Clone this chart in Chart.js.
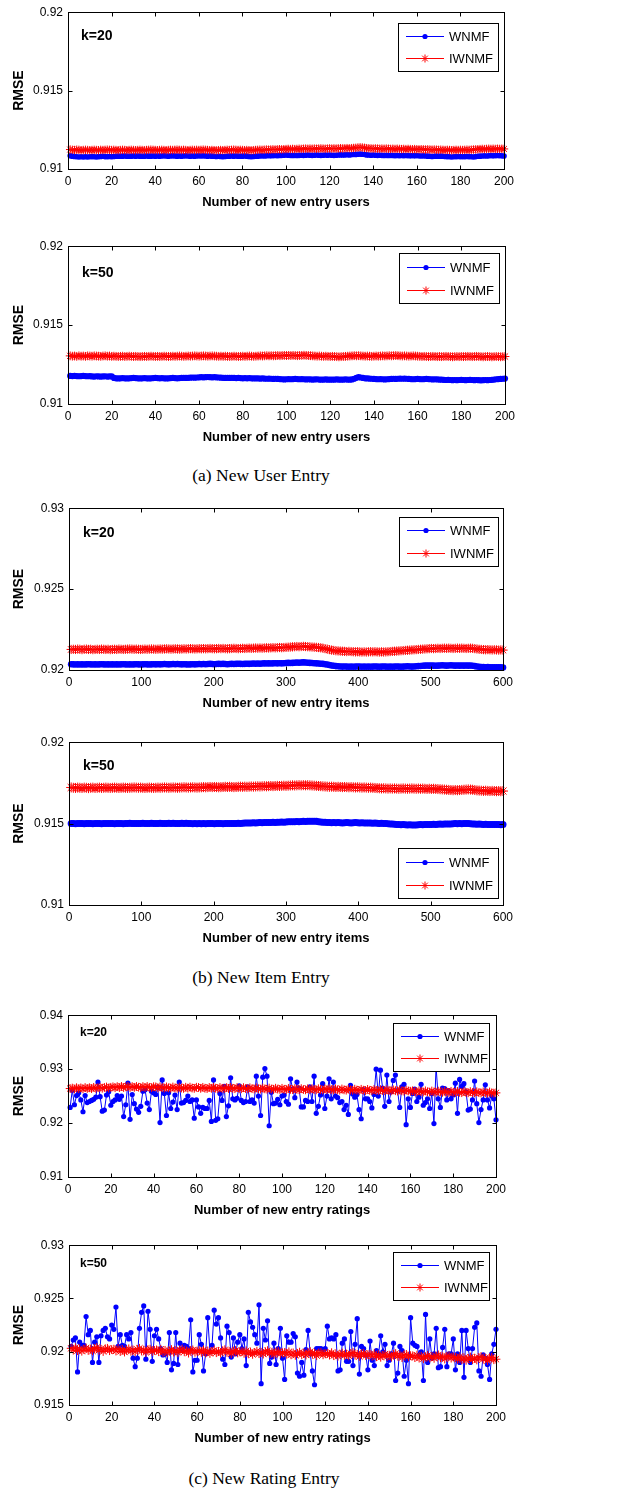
<!DOCTYPE html>
<html><head><meta charset="utf-8">
<script src="https://cdn.jsdelivr.net/npm/chart.js@4/dist/chart.umd.min.js"></script>
<style>
body{margin:0;background:#fff;width:630px;height:1488px;position:relative;overflow:hidden}
.box{position:absolute;left:0;width:630px}
.cap{position:absolute;width:300px;text-align:center;font-family:"Liberation Serif","Times New Roman",serif;font-size:17.5px;color:#000;line-height:20px}
</style></head><body>
<div class="cap" style="left:111px;top:465px">(a) New User Entry</div>
<div class="cap" style="left:111px;top:967px">(b) New Item Entry</div>
<div class="cap" style="left:114px;top:1468px">(c) New Rating Entry</div>
<script>
// ---------- categories (x positions) ----------
const usersX = Array.from({length:200},(_,i)=>i+1);
const itemsX = Array.from({length:200},(_,i)=>3*(i+1));
const ratingsX = Array.from({length:200},(_,i)=>i+1);
const xTicksUsers = [0,200,20];   // min, max, step
const xTicksItems = [0,600,100];

// ---------- (a) New User Entry, k=20 ----------
const wnmfUsersK20 = [
0.91084,0.91082,0.91080,0.91078,0.91077,0.91078,0.91077,0.91078,0.91077,0.91078,0.91079,0.91078,0.91077,0.91079,0.91080,0.91081,0.91079,0.91078,0.91080,0.91079,
0.91080,0.91081,0.91082,0.91081,0.91082,0.91083,0.91082,0.91081,0.91082,0.91083,0.91082,0.91083,0.91082,0.91081,0.91082,0.91083,0.91082,0.91082,0.91083,0.91082,
0.91083,0.91082,0.91083,0.91084,0.91083,0.91082,0.91083,0.91084,0.91083,0.91082,0.91083,0.91082,0.91083,0.91084,0.91083,0.91082,0.91083,0.91082,0.91083,0.91084,
0.91083,0.91084,0.91083,0.91082,0.91083,0.91082,0.91081,0.91080,0.91081,0.91080,0.91079,0.91080,0.91081,0.91082,0.91083,0.91082,0.91083,0.91082,0.91081,0.91082,
0.91083,0.91082,0.91080,0.91079,0.91080,0.91081,0.91082,0.91083,0.91084,0.91083,0.91084,0.91085,0.91084,0.91085,0.91086,0.91085,0.91086,0.91087,0.91088,0.91089,
0.91088,0.91087,0.91086,0.91087,0.91086,0.91087,0.91088,0.91087,0.91088,0.91089,0.91088,0.91087,0.91088,0.91089,0.91088,0.91087,0.91088,0.91089,0.91088,0.91089,
0.91088,0.91087,0.91088,0.91089,0.91090,0.91089,0.91090,0.91091,0.91090,0.91091,0.91092,0.91093,0.91094,0.91095,0.91094,0.91092,0.91090,0.91089,0.91088,0.91089,
0.91088,0.91087,0.91088,0.91087,0.91086,0.91087,0.91086,0.91087,0.91086,0.91085,0.91086,0.91085,0.91086,0.91085,0.91086,0.91085,0.91084,0.91085,0.91084,0.91085,
0.91084,0.91083,0.91084,0.91083,0.91082,0.91081,0.91080,0.91081,0.91082,0.91081,0.91082,0.91081,0.91080,0.91079,0.91078,0.91077,0.91078,0.91079,0.91080,0.91079,
0.91078,0.91079,0.91080,0.91079,0.91078,0.91077,0.91079,0.91081,0.91082,0.91083,0.91084,0.91083,0.91084,0.91085,0.91084,0.91085,0.91086,0.91085,0.91084,0.91083];
const iwnmfUsersK20 = [
0.91124,0.91122,0.91121,0.91123,0.91122,0.91120,0.91121,0.91122,0.91121,0.91120,0.91121,0.91122,0.91121,0.91120,0.91122,0.91121,0.91122,0.91123,0.91122,0.91121,
0.91122,0.91121,0.91120,0.91121,0.91122,0.91121,0.91120,0.91121,0.91122,0.91121,0.91120,0.91121,0.91122,0.91121,0.91120,0.91121,0.91122,0.91123,0.91122,0.91121,
0.91120,0.91121,0.91122,0.91121,0.91120,0.91121,0.91122,0.91121,0.91122,0.91123,0.91122,0.91121,0.91122,0.91121,0.91120,0.91121,0.91122,0.91121,0.91122,0.91121,
0.91122,0.91123,0.91122,0.91121,0.91120,0.91121,0.91120,0.91119,0.91120,0.91121,0.91120,0.91121,0.91122,0.91121,0.91122,0.91123,0.91122,0.91121,0.91122,0.91121,
0.91120,0.91121,0.91120,0.91119,0.91120,0.91121,0.91122,0.91123,0.91122,0.91123,0.91124,0.91123,0.91124,0.91125,0.91124,0.91125,0.91126,0.91125,0.91126,0.91127,
0.91128,0.91127,0.91128,0.91127,0.91128,0.91129,0.91128,0.91129,0.91130,0.91129,0.91130,0.91129,0.91130,0.91129,0.91130,0.91131,0.91130,0.91129,0.91130,0.91131,
0.91130,0.91131,0.91130,0.91131,0.91132,0.91131,0.91132,0.91133,0.91132,0.91133,0.91134,0.91135,0.91137,0.91138,0.91137,0.91135,0.91133,0.91132,0.91131,0.91130,
0.91131,0.91130,0.91129,0.91130,0.91129,0.91130,0.91129,0.91128,0.91129,0.91128,0.91129,0.91128,0.91127,0.91128,0.91127,0.91128,0.91127,0.91126,0.91127,0.91126,
0.91125,0.91126,0.91125,0.91124,0.91125,0.91124,0.91123,0.91124,0.91123,0.91122,0.91123,0.91122,0.91121,0.91122,0.91121,0.91120,0.91121,0.91122,0.91121,0.91122,
0.91121,0.91122,0.91123,0.91122,0.91123,0.91124,0.91125,0.91126,0.91127,0.91128,0.91127,0.91128,0.91129,0.91128,0.91129,0.91128,0.91129,0.91128,0.91129,0.91128];

// ---------- (a) New User Entry, k=50 ----------
const wnmfUsersK50 = [
0.91178,0.91177,0.91178,0.91177,0.91176,0.91177,0.91178,0.91177,0.91176,0.91177,0.91175,0.91174,0.91176,0.91175,0.91174,0.91175,0.91176,0.91174,0.91175,0.91176,
0.91165,0.91163,0.91162,0.91163,0.91164,0.91163,0.91162,0.91163,0.91164,0.91166,0.91164,0.91163,0.91162,0.91163,0.91164,0.91163,0.91162,0.91163,0.91164,0.91165,
0.91164,0.91163,0.91164,0.91163,0.91162,0.91163,0.91164,0.91165,0.91164,0.91163,0.91164,0.91165,0.91166,0.91165,0.91166,0.91167,0.91168,0.91167,0.91168,0.91169,
0.91170,0.91169,0.91170,0.91171,0.91170,0.91169,0.91170,0.91169,0.91168,0.91167,0.91166,0.91165,0.91166,0.91165,0.91166,0.91165,0.91164,0.91165,0.91164,0.91163,
0.91164,0.91163,0.91164,0.91163,0.91162,0.91163,0.91162,0.91161,0.91162,0.91161,0.91160,0.91161,0.91160,0.91159,0.91160,0.91159,0.91158,0.91157,0.91156,0.91157,
0.91158,0.91157,0.91158,0.91159,0.91158,0.91157,0.91158,0.91157,0.91156,0.91157,0.91156,0.91155,0.91156,0.91157,0.91155,0.91154,0.91155,0.91156,0.91154,0.91155,
0.91154,0.91155,0.91156,0.91155,0.91154,0.91155,0.91156,0.91155,0.91154,0.91156,0.91160,0.91166,0.91170,0.91168,0.91165,0.91163,0.91162,0.91161,0.91160,0.91159,
0.91158,0.91157,0.91158,0.91157,0.91156,0.91157,0.91158,0.91159,0.91160,0.91159,0.91160,0.91161,0.91160,0.91161,0.91160,0.91159,0.91158,0.91157,0.91158,0.91159,
0.91158,0.91157,0.91158,0.91159,0.91158,0.91157,0.91156,0.91157,0.91156,0.91155,0.91154,0.91153,0.91152,0.91153,0.91152,0.91151,0.91152,0.91151,0.91152,0.91153,
0.91152,0.91151,0.91152,0.91153,0.91152,0.91151,0.91152,0.91151,0.91150,0.91151,0.91152,0.91151,0.91152,0.91153,0.91155,0.91157,0.91158,0.91159,0.91160,0.91161];
const iwnmfUsersK50 = [
0.91305,0.91303,0.91304,0.91302,0.91305,0.91303,0.91304,0.91302,0.91305,0.91304,0.91303,0.91305,0.91304,0.91303,0.91302,0.91304,0.91305,0.91303,0.91304,0.91302,
0.91303,0.91302,0.91301,0.91302,0.91303,0.91301,0.91302,0.91303,0.91302,0.91301,0.91302,0.91301,0.91300,0.91301,0.91302,0.91301,0.91302,0.91303,0.91302,0.91301,
0.91302,0.91301,0.91302,0.91303,0.91302,0.91301,0.91302,0.91303,0.91302,0.91303,0.91304,0.91303,0.91302,0.91303,0.91304,0.91303,0.91304,0.91305,0.91304,0.91303,
0.91304,0.91305,0.91304,0.91303,0.91304,0.91305,0.91304,0.91303,0.91302,0.91303,0.91302,0.91303,0.91302,0.91301,0.91302,0.91303,0.91302,0.91301,0.91302,0.91303,
0.91302,0.91303,0.91304,0.91303,0.91302,0.91303,0.91304,0.91305,0.91304,0.91305,0.91306,0.91305,0.91306,0.91305,0.91306,0.91307,0.91306,0.91307,0.91308,0.91307,
0.91308,0.91307,0.91308,0.91307,0.91306,0.91307,0.91308,0.91309,0.91308,0.91307,0.91306,0.91305,0.91304,0.91303,0.91304,0.91303,0.91302,0.91303,0.91302,0.91301,
0.91302,0.91301,0.91300,0.91299,0.91300,0.91301,0.91302,0.91303,0.91304,0.91305,0.91306,0.91305,0.91306,0.91305,0.91304,0.91303,0.91304,0.91303,0.91302,0.91303,
0.91304,0.91303,0.91304,0.91305,0.91304,0.91305,0.91306,0.91305,0.91306,0.91307,0.91306,0.91305,0.91304,0.91305,0.91304,0.91303,0.91304,0.91305,0.91304,0.91303,
0.91302,0.91301,0.91302,0.91301,0.91300,0.91301,0.91302,0.91301,0.91300,0.91301,0.91300,0.91301,0.91302,0.91301,0.91300,0.91299,0.91300,0.91301,0.91300,0.91301,
0.91300,0.91301,0.91302,0.91301,0.91300,0.91301,0.91302,0.91301,0.91300,0.91299,0.91300,0.91301,0.91300,0.91299,0.91300,0.91301,0.91300,0.91299,0.91300,0.91301];

// ---------- (b) New Item Entry, k=20 ----------
const wnmfItemsK20 = [
0.92036,0.92035,0.92034,0.92035,0.92034,0.92035,0.92034,0.92035,0.92036,0.92035,0.92034,0.92035,0.92034,0.92035,0.92036,0.92035,0.92034,0.92035,0.92034,0.92035,
0.92034,0.92035,0.92034,0.92035,0.92036,0.92035,0.92034,0.92035,0.92034,0.92035,0.92036,0.92035,0.92034,0.92035,0.92036,0.92035,0.92034,0.92035,0.92036,0.92035,
0.92036,0.92035,0.92036,0.92037,0.92036,0.92035,0.92036,0.92037,0.92036,0.92037,0.92036,0.92035,0.92036,0.92035,0.92034,0.92035,0.92036,0.92035,0.92036,0.92037,
0.92036,0.92037,0.92036,0.92037,0.92038,0.92037,0.92036,0.92037,0.92038,0.92037,0.92038,0.92037,0.92036,0.92037,0.92038,0.92037,0.92038,0.92039,0.92038,0.92037,
0.92038,0.92039,0.92038,0.92039,0.92040,0.92039,0.92040,0.92039,0.92040,0.92041,0.92040,0.92041,0.92040,0.92041,0.92042,0.92041,0.92042,0.92041,0.92042,0.92043,
0.92044,0.92043,0.92044,0.92045,0.92046,0.92045,0.92046,0.92047,0.92046,0.92045,0.92044,0.92043,0.92042,0.92041,0.92040,0.92039,0.92038,0.92036,0.92034,0.92031,
0.92028,0.92026,0.92024,0.92023,0.92022,0.92021,0.92022,0.92021,0.92020,0.92021,0.92020,0.92021,0.92022,0.92021,0.92020,0.92021,0.92020,0.92021,0.92020,0.92021,
0.92022,0.92021,0.92020,0.92021,0.92022,0.92021,0.92020,0.92021,0.92020,0.92021,0.92022,0.92021,0.92020,0.92021,0.92022,0.92023,0.92022,0.92021,0.92022,0.92023,
0.92024,0.92025,0.92026,0.92027,0.92028,0.92027,0.92028,0.92027,0.92026,0.92027,0.92028,0.92029,0.92028,0.92027,0.92028,0.92029,0.92028,0.92027,0.92028,0.92027,
0.92028,0.92027,0.92028,0.92027,0.92028,0.92026,0.92024,0.92022,0.92020,0.92019,0.92018,0.92017,0.92018,0.92017,0.92016,0.92017,0.92016,0.92017,0.92016,0.92015];
const iwnmfItemsK20 = [
0.92127,0.92128,0.92127,0.92129,0.92128,0.92126,0.92128,0.92129,0.92127,0.92128,0.92126,0.92127,0.92128,0.92127,0.92129,0.92128,0.92127,0.92128,0.92126,0.92127,
0.92128,0.92127,0.92129,0.92128,0.92127,0.92128,0.92129,0.92130,0.92129,0.92128,0.92129,0.92128,0.92127,0.92128,0.92129,0.92128,0.92129,0.92130,0.92129,0.92128,
0.92129,0.92130,0.92129,0.92130,0.92131,0.92130,0.92129,0.92130,0.92131,0.92130,0.92129,0.92130,0.92131,0.92130,0.92131,0.92132,0.92131,0.92130,0.92131,0.92132,
0.92131,0.92132,0.92131,0.92132,0.92133,0.92132,0.92131,0.92132,0.92133,0.92132,0.92133,0.92132,0.92131,0.92132,0.92133,0.92134,0.92133,0.92132,0.92133,0.92134,
0.92133,0.92134,0.92135,0.92134,0.92135,0.92136,0.92135,0.92136,0.92135,0.92136,0.92137,0.92136,0.92137,0.92138,0.92137,0.92138,0.92139,0.92138,0.92139,0.92140,
0.92141,0.92142,0.92143,0.92144,0.92145,0.92144,0.92145,0.92146,0.92145,0.92144,0.92143,0.92142,0.92141,0.92140,0.92139,0.92137,0.92135,0.92132,0.92129,0.92126,
0.92123,0.92121,0.92119,0.92118,0.92117,0.92116,0.92115,0.92114,0.92115,0.92114,0.92113,0.92112,0.92113,0.92112,0.92111,0.92112,0.92111,0.92112,0.92113,0.92112,
0.92113,0.92112,0.92111,0.92112,0.92111,0.92112,0.92113,0.92114,0.92115,0.92116,0.92117,0.92118,0.92119,0.92120,0.92121,0.92122,0.92123,0.92124,0.92125,0.92126,
0.92127,0.92128,0.92129,0.92130,0.92131,0.92132,0.92133,0.92132,0.92133,0.92134,0.92133,0.92134,0.92135,0.92134,0.92135,0.92134,0.92133,0.92134,0.92135,0.92134,
0.92135,0.92134,0.92133,0.92134,0.92135,0.92134,0.92132,0.92130,0.92128,0.92127,0.92126,0.92125,0.92126,0.92125,0.92124,0.92125,0.92124,0.92123,0.92124,0.92123];

// ---------- (b) New Item Entry, k=50 ----------
const wnmfItemsK50 = [
0.91501,0.91500,0.91499,0.91500,0.91501,0.91500,0.91499,0.91500,0.91501,0.91500,0.91499,0.91500,0.91501,0.91500,0.91499,0.91500,0.91501,0.91500,0.91501,0.91500,
0.91499,0.91500,0.91501,0.91500,0.91499,0.91500,0.91501,0.91502,0.91501,0.91500,0.91501,0.91500,0.91501,0.91502,0.91501,0.91500,0.91501,0.91502,0.91501,0.91500,
0.91501,0.91502,0.91501,0.91500,0.91501,0.91502,0.91501,0.91502,0.91501,0.91500,0.91501,0.91502,0.91501,0.91502,0.91501,0.91500,0.91499,0.91500,0.91499,0.91500,
0.91499,0.91500,0.91499,0.91500,0.91501,0.91500,0.91499,0.91500,0.91501,0.91500,0.91499,0.91500,0.91501,0.91500,0.91501,0.91500,0.91501,0.91502,0.91501,0.91502,
0.91503,0.91504,0.91503,0.91504,0.91505,0.91504,0.91505,0.91506,0.91505,0.91506,0.91507,0.91506,0.91507,0.91508,0.91507,0.91508,0.91509,0.91510,0.91509,0.91510,
0.91511,0.91512,0.91511,0.91512,0.91513,0.91512,0.91513,0.91514,0.91513,0.91514,0.91515,0.91514,0.91515,0.91514,0.91512,0.91510,0.91509,0.91508,0.91507,0.91506,
0.91505,0.91506,0.91505,0.91506,0.91505,0.91504,0.91505,0.91506,0.91505,0.91504,0.91505,0.91506,0.91505,0.91504,0.91505,0.91504,0.91503,0.91504,0.91503,0.91502,
0.91503,0.91502,0.91501,0.91502,0.91501,0.91500,0.91499,0.91498,0.91497,0.91496,0.91495,0.91494,0.91493,0.91494,0.91493,0.91492,0.91493,0.91492,0.91491,0.91492,
0.91493,0.91494,0.91493,0.91494,0.91495,0.91494,0.91495,0.91496,0.91495,0.91496,0.91497,0.91496,0.91497,0.91498,0.91497,0.91498,0.91499,0.91500,0.91499,0.91500,
0.91499,0.91500,0.91501,0.91500,0.91499,0.91498,0.91497,0.91496,0.91497,0.91496,0.91495,0.91496,0.91495,0.91494,0.91495,0.91494,0.91495,0.91494,0.91493,0.91494];
const iwnmfItemsK50 = [
0.91722,0.91720,0.91719,0.91721,0.91720,0.91719,0.91721,0.91720,0.91718,0.91720,0.91721,0.91719,0.91720,0.91721,0.91719,0.91720,0.91721,0.91720,0.91719,0.91720,
0.91721,0.91720,0.91719,0.91720,0.91721,0.91720,0.91719,0.91720,0.91721,0.91722,0.91721,0.91720,0.91721,0.91720,0.91719,0.91720,0.91721,0.91720,0.91719,0.91720,
0.91721,0.91720,0.91721,0.91722,0.91721,0.91720,0.91721,0.91722,0.91721,0.91720,0.91721,0.91722,0.91723,0.91722,0.91721,0.91722,0.91723,0.91722,0.91721,0.91722,
0.91723,0.91724,0.91723,0.91724,0.91725,0.91724,0.91725,0.91724,0.91723,0.91724,0.91725,0.91726,0.91725,0.91726,0.91725,0.91724,0.91725,0.91726,0.91727,0.91726,
0.91727,0.91726,0.91727,0.91728,0.91727,0.91728,0.91729,0.91728,0.91729,0.91730,0.91729,0.91730,0.91731,0.91730,0.91731,0.91732,0.91731,0.91732,0.91733,0.91732,
0.91733,0.91734,0.91735,0.91734,0.91735,0.91736,0.91735,0.91736,0.91735,0.91736,0.91735,0.91734,0.91733,0.91732,0.91731,0.91730,0.91729,0.91728,0.91727,0.91726,
0.91727,0.91726,0.91725,0.91726,0.91725,0.91724,0.91725,0.91724,0.91723,0.91724,0.91723,0.91722,0.91723,0.91722,0.91721,0.91722,0.91721,0.91720,0.91721,0.91720,
0.91719,0.91718,0.91717,0.91716,0.91717,0.91716,0.91715,0.91716,0.91715,0.91716,0.91715,0.91714,0.91715,0.91716,0.91715,0.91714,0.91715,0.91716,0.91715,0.91714,
0.91715,0.91714,0.91715,0.91714,0.91713,0.91714,0.91713,0.91714,0.91713,0.91712,0.91711,0.91710,0.91709,0.91708,0.91707,0.91706,0.91705,0.91706,0.91705,0.91706,
0.91707,0.91708,0.91709,0.91710,0.91709,0.91708,0.91706,0.91704,0.91703,0.91702,0.91701,0.91702,0.91701,0.91700,0.91701,0.91700,0.91699,0.91700,0.91699,0.91700];

// ---------- (c) New Rating Entry, k=20 ----------
const wnmfRatingsK20 = [
0.9229,0.9261,0.9234,0.9251,0.9256,0.9243,0.9221,0.9251,0.9238,0.9240,0.9242,0.9244,0.9248,0.9276,0.9249,0.9222,0.9224,0.9252,0.9258,0.9233,
0.9240,0.9243,0.9251,0.9244,0.9250,0.9212,0.9234,0.9274,0.9207,0.9253,0.9236,0.9226,0.9220,0.9231,0.9259,0.9262,0.9237,0.9225,0.9259,0.9256,
0.9253,0.9266,0.9201,0.9280,0.9255,0.9214,0.9256,0.9227,0.9239,0.9252,0.9225,0.9276,0.9237,0.9238,0.9242,0.9250,0.9240,0.9243,0.9209,0.9243,
0.9230,0.9218,0.9229,0.9227,0.9227,0.9242,0.9203,0.9280,0.9205,0.9208,0.9255,0.9242,0.9268,0.9212,0.9232,0.9284,0.9245,0.9243,0.9246,0.9269,
0.9242,0.9238,0.9240,0.9267,0.9240,0.9243,0.9237,0.9287,0.9250,0.9214,0.9285,0.9301,0.9287,0.9195,0.9257,0.9236,0.9237,0.9244,0.9234,0.9250,
0.9252,0.9240,0.9235,0.9282,0.9263,0.9247,0.9276,0.9265,0.9230,0.9230,0.9242,0.9240,0.9267,0.9240,0.9287,0.9218,0.9231,0.9252,0.9273,0.9227,
0.9250,0.9282,0.9245,0.9276,0.9250,0.9247,0.9238,0.9240,0.9225,0.9233,0.9216,0.9270,0.9254,0.9248,0.9253,0.9225,0.9208,0.9262,0.9245,0.9245,
0.9240,0.9228,0.9253,0.9300,0.9250,0.9298,0.9265,0.9231,0.9289,0.9240,0.9258,0.9279,0.9289,0.9260,0.9229,0.9267,0.9272,0.9197,0.9245,0.9229,
0.9255,0.9263,0.9240,0.9248,0.9272,0.9233,0.9238,0.9245,0.9227,0.9255,0.9199,0.9305,0.9245,0.9229,0.9265,0.9264,0.9243,0.9260,0.9245,0.9252,
0.9274,0.9218,0.9281,0.9268,0.9273,0.9258,0.9224,0.9226,0.9243,0.9278,0.9236,0.9201,0.9225,0.9243,0.9271,0.9243,0.9228,0.9250,0.9245,0.9206];
const iwnmfRatingsK20 = [
0.92640,0.92648,0.92632,0.92655,0.92638,0.92652,0.92636,0.92658,0.92642,0.92655,0.92640,0.92662,0.92645,0.92656,0.92664,0.92646,0.92660,0.92668,0.92650,0.92663,
0.92672,0.92656,0.92675,0.92658,0.92678,0.92660,0.92672,0.92680,0.92660,0.92676,0.92662,0.92678,0.92664,0.92658,0.92676,0.92660,0.92678,0.92662,0.92656,0.92674,
0.92670,0.92654,0.92672,0.92656,0.92650,0.92670,0.92654,0.92648,0.92668,0.92652,0.92646,0.92666,0.92650,0.92644,0.92664,0.92648,0.92666,0.92650,0.92644,0.92664,
0.92660,0.92644,0.92662,0.92646,0.92640,0.92660,0.92644,0.92662,0.92646,0.92640,0.92660,0.92644,0.92638,0.92658,0.92642,0.92660,0.92644,0.92638,0.92658,0.92642,
0.92636,0.92656,0.92640,0.92634,0.92654,0.92638,0.92632,0.92652,0.92636,0.92630,0.92650,0.92634,0.92628,0.92648,0.92632,0.92626,0.92646,0.92630,0.92624,0.92644,
0.92626,0.92622,0.92642,0.92626,0.92620,0.92640,0.92624,0.92618,0.92638,0.92622,0.92616,0.92636,0.92620,0.92638,0.92622,0.92616,0.92636,0.92620,0.92614,0.92634,
0.92618,0.92636,0.92620,0.92614,0.92634,0.92618,0.92612,0.92632,0.92616,0.92610,0.92630,0.92614,0.92608,0.92628,0.92612,0.92606,0.92626,0.92610,0.92604,0.92624,
0.92608,0.92602,0.92622,0.92606,0.92600,0.92620,0.92604,0.92598,0.92618,0.92602,0.92596,0.92616,0.92600,0.92594,0.92614,0.92598,0.92592,0.92612,0.92596,0.92590,
0.92598,0.92582,0.92578,0.92598,0.92582,0.92576,0.92596,0.92580,0.92574,0.92594,0.92578,0.92572,0.92592,0.92576,0.92570,0.92590,0.92574,0.92568,0.92588,0.92572,
0.92566,0.92586,0.92570,0.92564,0.92584,0.92568,0.92562,0.92582,0.92566,0.92560,0.92580,0.92564,0.92558,0.92578,0.92562,0.92556,0.92576,0.92560,0.92554,0.92560];

// ---------- (c) New Rating Entry, k=50 ----------
const wnmfRatingsK50 = [
0.9205,0.9211,0.9213,0.9181,0.9209,0.9206,0.9206,0.9233,0.9216,0.9220,0.9190,0.9209,0.9214,0.9190,0.9215,0.9220,0.9222,0.9214,0.9212,0.9225,
0.9221,0.9242,0.9205,0.9216,0.9206,0.9205,0.9216,0.9212,0.9218,0.9194,0.9186,0.9194,0.9222,0.9237,0.9243,0.9193,0.9238,0.9221,0.9191,0.9215,
0.9221,0.9212,0.9203,0.9197,0.9198,0.9190,0.9218,0.9183,0.9189,0.9218,0.9188,0.9208,0.9202,0.9206,0.9205,0.9203,0.9230,0.9181,0.9192,0.9192,
0.9216,0.9207,0.9182,0.9198,0.9232,0.9200,0.9206,0.9239,0.9226,0.9232,0.9213,0.9193,0.9188,0.9224,0.9218,0.9195,0.9213,0.9198,0.9209,0.9216,
0.9203,0.9212,0.9187,0.9237,0.9228,0.9223,0.9216,0.9208,0.9244,0.9170,0.9222,0.9211,0.9229,0.9189,0.9195,0.9208,0.9188,0.9203,0.9222,0.9194,
0.9174,0.9215,0.9209,0.9209,0.9217,0.9214,0.9180,0.9177,0.9190,0.9178,0.9202,0.9220,0.9198,0.9182,0.9169,0.9203,0.9203,0.9203,0.9202,0.9203,
0.9224,0.9212,0.9213,0.9212,0.9216,0.9182,0.9183,0.9208,0.9212,0.9191,0.9191,0.9219,0.9187,0.9207,0.9231,0.9179,0.9205,0.9203,0.9197,0.9183,
0.9210,0.9192,0.9187,0.9201,0.9198,0.9215,0.9200,0.9207,0.9187,0.9192,0.9198,0.9208,0.9173,0.9180,0.9205,0.9201,0.9177,0.9192,0.9170,0.9232,
0.9208,0.9206,0.9205,0.9197,0.9200,0.9173,0.9235,0.9190,0.9212,0.9194,0.9198,0.9222,0.9185,0.9186,0.9204,0.9221,0.9186,0.9198,0.9198,0.9212,
0.9183,0.9198,0.9190,0.9220,0.9176,0.9220,0.9203,0.9190,0.9203,0.9223,0.9227,0.9182,0.9177,0.9197,0.9194,0.9188,0.9174,0.9198,0.9207,0.9221];
const iwnmfRatingsK50 = [
0.92032,0.92015,0.92038,0.92010,0.92028,0.92005,0.92023,0.92035,0.92012,0.92025,0.92008,0.92030,0.92040,0.92015,0.92023,0.92002,0.92028,0.92032,0.92010,0.92020,
0.92024,0.92007,0.92030,0.92002,0.92020,0.91997,0.92015,0.92027,0.92004,0.92017,0.92000,0.92022,0.92032,0.92007,0.92015,0.91994,0.92020,0.92024,0.92002,0.92012,
0.92017,0.92000,0.92023,0.91995,0.92013,0.91990,0.92008,0.92020,0.91997,0.92010,0.91993,0.92015,0.92025,0.92000,0.92008,0.91987,0.92013,0.92017,0.91995,0.92005,
0.92011,0.91994,0.92017,0.91989,0.92007,0.91984,0.92002,0.92014,0.91991,0.92004,0.91987,0.92009,0.92019,0.91994,0.92002,0.91981,0.92007,0.92011,0.91989,0.91999,
0.92002,0.91985,0.92008,0.91980,0.91998,0.91975,0.91993,0.92005,0.91982,0.91995,0.91978,0.92000,0.92010,0.91985,0.91993,0.91972,0.91998,0.92002,0.91980,0.91990,
0.91993,0.91976,0.91999,0.91971,0.91989,0.91966,0.91984,0.91996,0.91973,0.91986,0.91969,0.91991,0.92001,0.91976,0.91984,0.91963,0.91989,0.91993,0.91971,0.91981,
0.91985,0.91968,0.91991,0.91963,0.91981,0.91958,0.91976,0.91988,0.91965,0.91978,0.91961,0.91983,0.91993,0.91968,0.91976,0.91955,0.91981,0.91985,0.91963,0.91973,
0.91975,0.91958,0.91981,0.91953,0.91971,0.91948,0.91966,0.91978,0.91955,0.91968,0.91951,0.91973,0.91983,0.91958,0.91966,0.91945,0.91971,0.91975,0.91953,0.91963,
0.91962,0.91945,0.91968,0.91940,0.91958,0.91935,0.91953,0.91965,0.91942,0.91955,0.91938,0.91960,0.91970,0.91945,0.91953,0.91932,0.91958,0.91962,0.91940,0.91950,
0.91947,0.91930,0.91953,0.91925,0.91943,0.91920,0.91938,0.91950,0.91927,0.91940,0.91923,0.91945,0.91955,0.91930,0.91938,0.91917,0.91943,0.91947,0.91925,0.91930];

const seriesNames = ['WNMF','IWNMF'];
const kLabels = ['k=20','k=50'];
const BLUE = '#0000ff', RED = '#ff0000';
const SANS = '"Liberation Sans", Arial, Helvetica, sans-serif';

Chart.defaults.font.family = SANS;
Chart.defaults.color = '#000';

const panels = [
 {top:0,   h:214, L:68, R:504, xs:usersX,   w:wnmfUsersK20,   iw:iwnmfUsersK20,   xt:xTicksUsers, y:[0.91,0.92,0.005],  title:'Number of new entry users',   k:kLabels[0], kx:81, ky:36, ks:14, leg:[398,23,100,48], rb:2.8, rr:4.2},
 {top:234, h:215, L:68, R:505, xs:usersX,   w:wnmfUsersK50,   iw:iwnmfUsersK50,   xt:xTicksUsers, y:[0.91,0.92,0.005],  title:'Number of new entry users',   k:kLabels[1], kx:82, ky:39, ks:14, leg:[399,19,100,50], rb:3.1, rr:4.4},
 {top:496, h:219, L:69, R:503, xs:itemsX,   w:wnmfItemsK20,   iw:iwnmfItemsK20,   xt:xTicksItems, y:[0.92,0.93,0.005],  title:'Number of new entry items',   k:kLabels[0], kx:83, ky:37, ks:14, leg:[399,21,99,49],  rb:3.3, rr:4.6},
 {top:730, h:220, L:69, R:503, xs:itemsX,   w:wnmfItemsK50,   iw:iwnmfItemsK50,   xt:xTicksItems, y:[0.91,0.92,0.005],  title:'Number of new entry items',   k:kLabels[1], kx:83, ky:36, ks:14, leg:[398,118,100,50],rb:3.5, rr:5.0},
 {top:1003,h:219, L:68, R:496, xs:ratingsX, w:wnmfRatingsK20, iw:iwnmfRatingsK20, xt:xTicksUsers, y:[0.91,0.94,0.01],   title:'Number of new entry ratings', k:kLabels[0], kx:80, ky:30, ks:12, leg:[393,20,96,48],  rb:2.6, rr:4.4},
 {top:1233,h:217, L:69, R:496, xs:ratingsX, w:wnmfRatingsK50, iw:iwnmfRatingsK50, xt:xTicksUsers, y:[0.915,0.93,0.005],title:'Number of new entry ratings', k:kLabels[1], kx:80, ky:31, ks:12, leg:[393,19,96,48],  rb:2.6, rr:4.4}
];

function line(ctx,x1,y1,x2,y2){ctx.beginPath();ctx.moveTo(x1,y1);ctx.lineTo(x2,y2);ctx.stroke();}

const matlabBox = {
  id:'matlabBox',
  afterDatasetsDraw(chart){
    const o = chart.options.plugins.matlabBox;
    const {ctx, chartArea:a, scales:{x,y}} = chart;
    ctx.save();
    ctx.strokeStyle = '#000'; ctx.lineWidth = 1;
    const l = Math.round(a.left)+0.5, r = Math.round(a.right)+0.5, t = Math.round(a.top)+0.5, b = Math.round(a.bottom)+0.5;
    ctx.strokeRect(l, t, r-l, b-t);
    const TL = 4;
    x.ticks.forEach((tk,i)=>{ const px = Math.round(x.getPixelForTick(i))+0.5; line(ctx,px,b,px,b-TL); line(ctx,px,t,px,t+TL); });
    y.ticks.forEach((tk,i)=>{ const py = Math.round(y.getPixelForTick(i))+0.5; line(ctx,l,py,l+TL,py); line(ctx,r,py,r-TL,py); });
    // k label
    ctx.fillStyle = '#000';
    ctx.font = 'bold '+o.ks+'px '+SANS;
    ctx.textBaseline = 'middle'; ctx.textAlign = 'left';
    ctx.fillText(o.k, o.kx, o.ky);
    // legend
    const [lx,ly,lw,lh] = o.leg;
    ctx.fillStyle = '#fff'; ctx.fillRect(lx,ly,lw,lh);
    ctx.strokeStyle = '#000'; ctx.strokeRect(lx+0.5, ly+0.5, lw, lh);
    const rows = [ly + lh*0.27, ly + lh*0.73];
    chart.data.datasets.forEach((ds,i)=>{
      const cy = Math.round(rows[i])+0.5;
      ctx.strokeStyle = ds.borderColor; ctx.fillStyle = ds.backgroundColor; ctx.lineWidth = 1;
      line(ctx, lx+8, cy, lx+46, cy);
      Chart.helpers.drawPoint(ctx, {pointStyle: ds.pointStyle, radius: i===0?2.6:4, borderWidth: ds.pointBorderWidth, rotation:0}, lx+27, cy);
      ctx.fillStyle = '#000';
      ctx.font = '13px '+SANS; ctx.textAlign='left'; ctx.textBaseline='middle';
      ctx.fillText(ds.label, lx+51, cy+1);
    });
    ctx.restore();
  }
};

panels.forEach((p,idx)=>{
  const div = document.createElement('div');
  div.className='box'; div.style.top = p.top+'px'; div.style.height = p.h+'px';
  const cv = document.createElement('canvas');
  cv.width = 630; cv.height = p.h; cv.style.width='630px'; cv.style.height=p.h+'px';
  div.appendChild(cv); document.body.appendChild(div);
  const pts = arr => arr.map((v,i)=>({x:p.xs[i], y:v}));
  new Chart(cv, {
    type:'line',
    data:{datasets:[
      {label:seriesNames[0], data:pts(p.w), borderColor:BLUE, backgroundColor:BLUE, borderWidth:1,
       pointStyle:'circle', pointRadius:p.rb, pointBorderWidth:0, pointBackgroundColor:BLUE, pointBorderColor:BLUE, order:1, clip:false, tension:0},
      {label:seriesNames[1], data:pts(p.iw), borderColor:RED, backgroundColor:RED, borderWidth:1,
       pointStyle:'star', pointRadius:p.rr, pointBorderWidth:1, pointBackgroundColor:RED, pointBorderColor:RED, order:0, clip:false, tension:0}
    ]},
    options:{
      responsive:false, animation:false, maintainAspectRatio:false,
      layout:{padding:{top:12, left:0, right:630-p.R, bottom:0}},
      plugins:{legend:{display:false}, tooltip:{enabled:false},
        matlabBox:{k:p.k, kx:p.kx, ky:p.ky, ks:p.ks, leg:p.leg}},
      scales:{
        x:{type:'linear', min:p.xt[0], max:p.xt[1],
           ticks:{stepSize:p.xt[2], autoSkip:false, maxRotation:0, padding:5, color:'#000', font:{size:12, family:SANS}},
           grid:{display:false, drawTicks:false}, border:{display:false},
           title:{display:true, text:p.title, color:'#000', font:{size:13, weight:'bold', family:SANS}, padding:{top:0, bottom:4}},
           afterFit:s=>{s.height=45;}},
        y:{type:'linear', min:p.y[0], max:p.y[1],
           ticks:{stepSize:p.y[2], padding:5, color:'#000', font:{size:12, family:SANS},
                  callback:v=>String(parseFloat(Number(v).toFixed(4)))},
           grid:{display:false, drawTicks:false}, border:{display:false},
           title:{display:true, text:'RMSE', color:'#000', font:{size:14, weight:'bold', family:SANS}, padding:{top:11, bottom:0}},
           afterFit:s=>{s.width=p.L;}}
      }
    },
    plugins:[matlabBox]
  });
});
</script>
</body></html>
